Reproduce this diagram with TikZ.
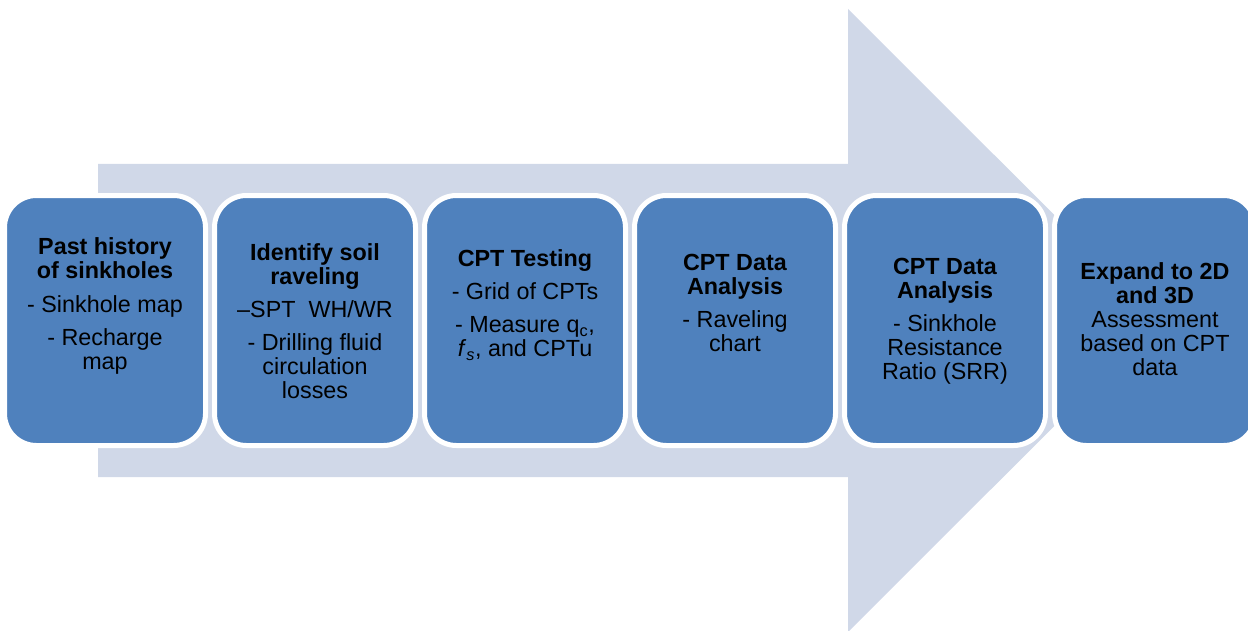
\documentclass[tikz,border=0pt]{standalone}
\usepackage{fontspec}
\setmainfont{Liberation Sans}
\definecolor{arrowfill}{HTML}{D0D8E8}
\definecolor{boxfill}{HTML}{4F81BD}
\begin{document}
\begin{tikzpicture}[
    x=0.75pt, y=-0.75pt,
    stepbox/.style={
      rectangle, rounded corners=24pt, draw=white, line width=3.75pt,
      fill=boxfill, minimum width=150.75pt, minimum height=187.5pt
    },
    steptext/.style={
      align=center, inner sep=0pt, text=black,
      font=\fontsize{17.5}{18}\selectfont
    }
  ]
  \useasboundingbox (0,0) rectangle (1248,631);

  % Big background arrow.
  \fill[arrowfill] (98,164) -- (848,164) -- (848,9) -- (1160,320.5)
    -- (848,632) -- (848,477) -- (98,477) -- cycle;

  % Process steps, left to right.
  \node[stepbox] (past)   at (105, 320.5) {};
  \node[stepbox] (soil)   at (315, 320.5) {};
  \node[stepbox] (cpt)    at (525, 320.5) {};
  \node[stepbox] (ravel)  at (735, 320.5) {};
  \node[stepbox] (srr)    at (945, 320.5) {};
  \node[stepbox] (expand) at (1155,320.5) {};

  \node[steptext] (pastt) at (105, 306) {\textbf{Past history}\\\textbf{of sinkholes}\\[7pt]
    - Sinkhole map\\[7pt] - Recharge\\map};
  \node[steptext] (soilt) at (315, 321) {\textbf{Identify soil}\\\textbf{raveling}\\[7pt]
    --SPT\ \ WH/WR\\[7pt] - Drilling fluid\\circulation\\losses};
  \node[steptext] (cptt) at (525, 305) {\textbf{CPT Testing}\\[7pt]
    - Grid of CPTs\\[7pt] - Measure q\textsubscript{c},\\
    \textit{f}\textsubscript{\textit{s}}, and CPTu};
  \node[steptext] (ravelt) at (735, 303) {\textbf{CPT Data}\\\textbf{Analysis}\\[7pt]
    - Raveling\\chart};
  \node[steptext] (srrt) at (945, 321.5) {\textbf{CPT Data}\\\textbf{Analysis}\\[7pt]
    - Sinkhole\\Resistance\\Ratio (SRR)};
  \node[steptext] (expandt) at (1155, 319.5) {\textbf{Expand to 2D}\\\textbf{and 3D}\\
    Assessment\\based on CPT\\data};
\end{tikzpicture}
\end{document}
